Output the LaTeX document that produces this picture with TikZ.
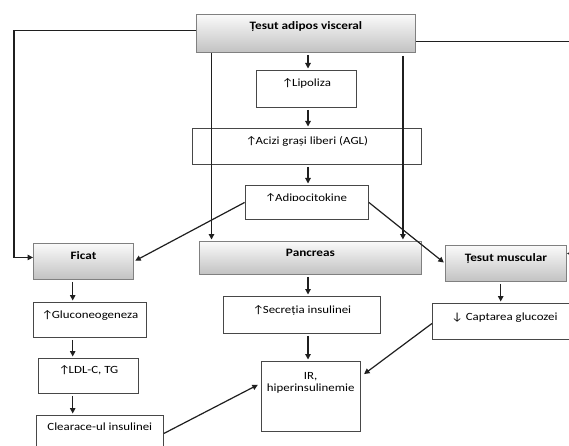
\documentclass[tikz,border=0pt]{standalone}
\usepackage{fontspec}
\setmainfont{Carlito}[FakeStretch=1.17]
\usetikzlibrary{arrows.meta,calc}
\newcommand{\upar}{↑\kern-1.5pt}
\newcommand{\dnar}{↓}
\begin{document}
\begin{tikzpicture}[x=1pt,y=-1pt,
  every node/.style={font=\fontsize{11}{12}\selectfont},
  plain/.style={draw=black!72, line width=0.9pt, fill=white, inner sep=0pt,
    text height=7pt, align=center, anchor=north west},
  grad/.style={draw=black!50, line width=0.9pt, top color=black!2, bottom color=black!24,
    inner sep=0pt, text height=7pt, anchor=north west,
    font=\fontsize{11.3}{12}\selectfont\bfseries},
  conn/.style={draw=black!88, line width=1.2pt},
  arr/.style={conn, -{Triangle[length=5.5pt,width=5.5pt]}, shorten >=1.5pt, shorten <=2pt}]
\useasboundingbox (0,0) rectangle (569,446);
\clip (0,0) rectangle (569,446);
\fill[white] (0,0) rectangle (569,446);

% helper coordinates (columns of arrows, bends)
\coordinate (cx) at (308,0);
\coordinate (lx) at (72.7,0);
\coordinate (mx) at (500.7,0);
\coordinate (lc) at (14,150);
\coordinate (rc) at (590,150);

% boxes
\node[grad, minimum width=219, minimum height=38, text depth=14pt] (top) at (196,14) {Țesut adipos visceral};
\node[plain, minimum width=100, minimum height=37, text depth=11.6pt] (lip) at (256,70) {\upar Lipoliza};
\node[plain, minimum width=229.4, minimum height=36, text depth=10.6pt] (agl) at (191.6,128) {\upar Acizi grași liberi (AGL)};
\node[plain, minimum width=123.4, minimum height=34] (adipo) at (244.6,185) {};
\begin{scope}
  \clip (245,186) rectangle (368,200.5);
  \node[anchor=base, inner sep=0pt] at (306,201.5) {\upar Adipocitokine};
\end{scope}
\node[grad, minimum width=100, minimum height=36, text depth=10pt] (ficat) at (33,243) {Ficat};
\node[grad, minimum width=222, minimum height=33, text depth=9pt] (pan) at (199,241) {Pancreas};
\node[grad, minimum width=121, minimum height=36, text depth=10.6pt] (mus) at (445,245) {Țesut muscular};
\node[plain, minimum width=113, minimum height=35, text depth=9pt] (glu) at (33,302) {\upar Gluconeogeneza};
\node[plain, minimum width=100, minimum height=35, text depth=11pt] (ldl) at (38,358) {\upar LDL-C, TG};
\node[plain, minimum width=127.3, minimum height=36, text depth=12pt] (clr) at (35.7,415) {Clearace-ul insulinei};
\node[plain, minimum width=157, minimum height=37, text depth=9pt] (sec) at (223,296) {\upar Secreția insulinei};
\node[plain, minimum width=99.5, minimum height=70, text height=19pt, text depth=28pt] (ir) at (260.5,361) {IR,\\hiperinsulinemie};
\node[plain, minimum width=144, minimum height=36, text depth=8pt] (cap) at (432,303) {\dnar{} Captarea glucozei};

% central column
\draw[arr] (top.south -| cx) -- (lip.north -| cx);
\draw[arr] (lip.south -| cx) -- (agl.north -| cx);
\draw[arr] (agl.south -| cx) -- (adipo.north -| cx);
\draw[arr] (pan.south -| cx) -- (sec.north -| cx);
\draw[arr] (sec.south -| cx) -- (ir.north -| cx);
% verticals from adipose tissue to pancreas
\draw[arr, shorten <=0pt] ([xshift=15.5]top.south west) -- ([xshift=15.5]top.south west |- pan.north);
\draw[arr, shorten <=3pt] ([xshift=-13]top.south east) -- ([xshift=-13]top.south east |- pan.north);
% adipocytokines
\draw[arr, shorten <=0pt] (adipo.west) -- (ficat.east);
\draw[arr, shorten <=0pt] (adipo.east) -- (mus.west);
% outer loops
\draw[arr, shorten <=0pt, shorten >=0pt] ([yshift=3]top.west) -| (lc) |- ([yshift=4]ficat.west);
\draw[arr, shorten <=0pt, shorten >=0pt] ([yshift=-8]top.east) -| (rc) |- ([yshift=10]mus.east);
% liver column
\draw[arr] (ficat.south -| lx) -- (glu.north -| lx);
\draw[arr] (glu.south -| lx) -- (ldl.north -| lx);
\draw[arr] (ldl.south -| lx) -- (clr.north -| lx);
% muscle column
\draw[arr] (mus.south -| mx) -- (cap.north -| mx);
% into IR
\draw[arr, shorten <=0pt, shorten >=4pt] ([yshift=-2]cap.west) -- ([yshift=20]ir.east);
\draw[arr, shorten <=0pt, shorten >=3pt] (clr.east) -- ([yshift=13]ir.west);
\end{tikzpicture}
\end{document}
